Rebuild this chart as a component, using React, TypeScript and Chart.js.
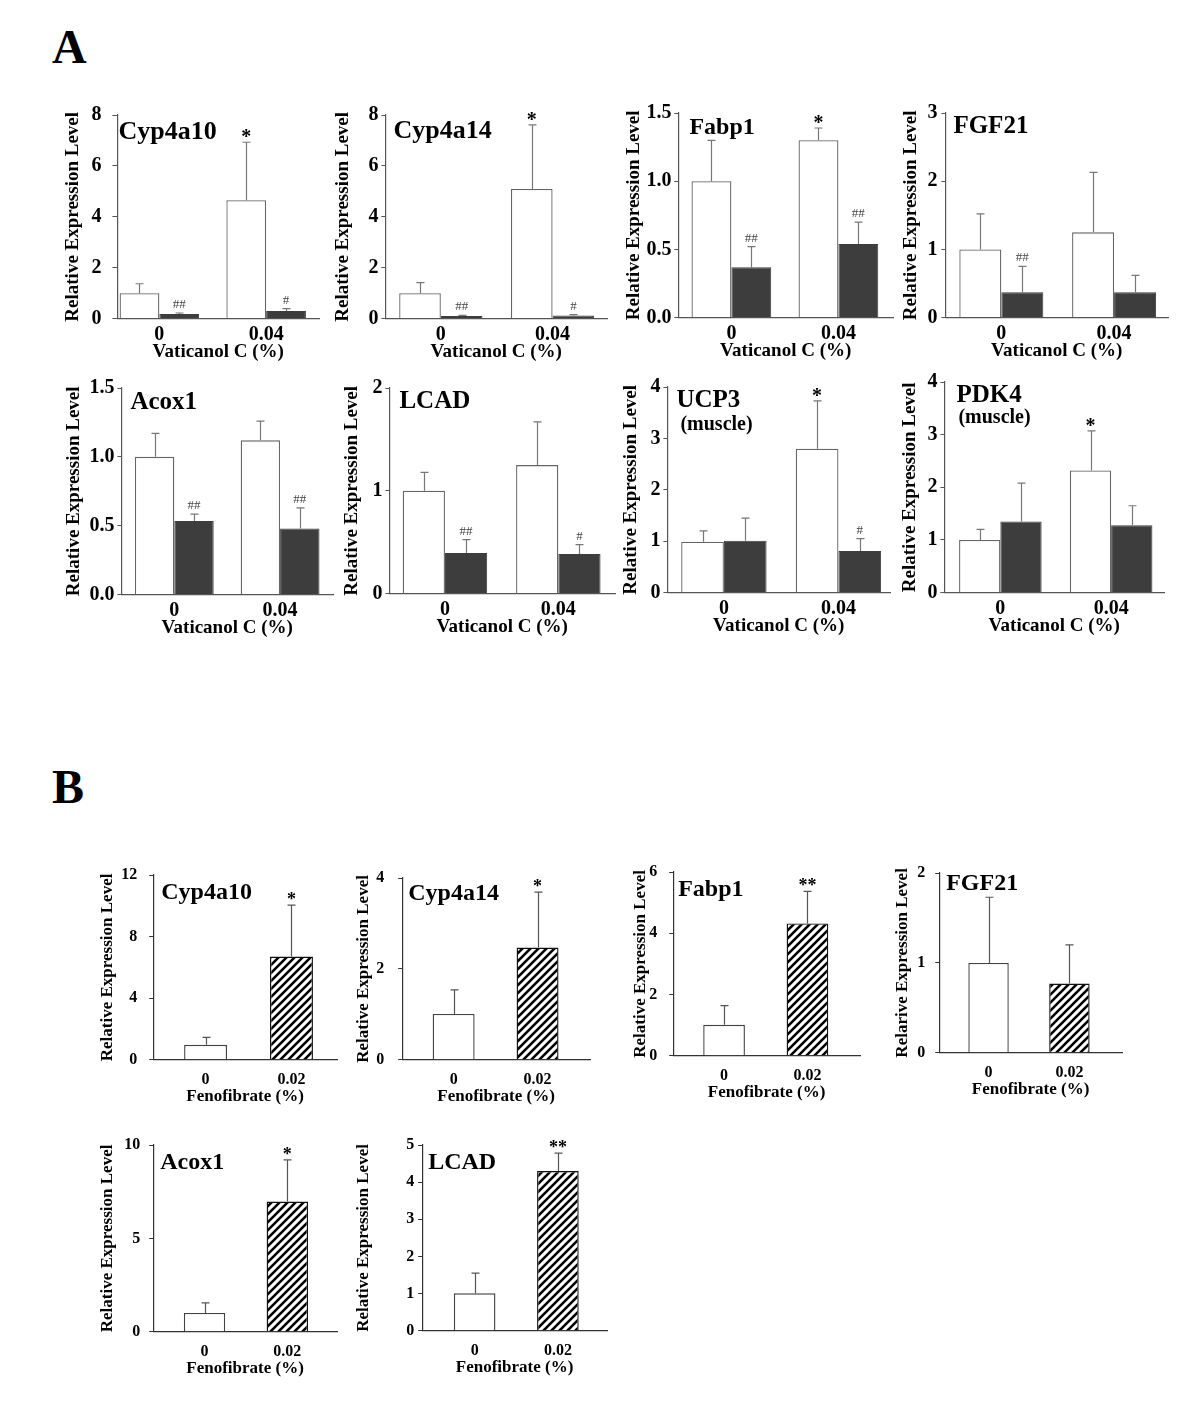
import React, { useEffect, useRef } from 'react';
import { Chart, registerables } from 'chart.js';

Chart.register(...registerables);

const SERIF = "'Liberation Serif', 'Times New Roman', 'DejaVu Serif', serif";

// ---------------- Panel A : Vaticanol C ----------------
const A_CATEGORIES = ['0', '0.04'];
const A_GENES = ['Cyp4a10', 'Cyp4a14', 'Fabp1', 'FGF21', 'Acox1', 'LCAD', 'UCP3', 'PDK4'];
const A_SUBTITLES = ['', '', '', '', '', '', '(muscle)', '(muscle)'];
const A_WHITE_MEAN = [[1.0, 4.65], [1.0, 5.09], [1.0, 1.30], [1.0, 1.25], [1.0, 1.12], [1.0, 1.25], [0.99, 2.80], [1.0, 2.32]];
const A_WHITE_SD = [[0.37, 2.28], [0.41, 2.52], [0.30, 0.09], [0.52, 0.88], [0.17, 0.14], [0.18, 0.42], [0.21, 0.93], [0.20, 0.75]];
const A_DARK_MEAN = [[0.18, 0.30], [0.10, 0.12], [0.37, 0.54], [0.37, 0.37], [0.535, 0.48], [0.395, 0.386], [1.01, 0.81], [1.35, 1.28]];
const A_DARK_SD = [[0.04, 0.09], [0.03, 0.04], [0.15, 0.16], [0.38, 0.25], [0.05, 0.15], [0.13, 0.09], [0.44, 0.24], [0.73, 0.37]];
const A_WHITE_MARKS = [['', '*'], ['', '*'], ['', '*'], ['', ''], ['', ''], ['', ''], ['', '*'], ['', '*']];
const A_DARK_MARKS = [['##', '#'], ['##', '#'], ['##', '##'], ['##', ''], ['##', '##'], ['##', '#'], ['', '#'], ['', '']];
const A_Y_MAX = [8, 8, 1.5, 3, 1.5, 2, 4, 4];
const A_Y_STEP = [2, 2, 0.5, 1, 0.5, 1, 1, 1];
const A_Y_DECIMALS = [0, 0, 1, 0, 1, 0, 0, 0];
const A_Y_TITLE = 'Relative Expression Level';
const A_X_TITLE = 'Vaticanol C (%)';

// ---------------- Panel B : Fenofibrate ----------------
const B_CATEGORIES = ['0', '0.02'];
const B_GENES = ['Cyp4a10', 'Cyp4a14', 'Fabp1', 'FGF21', 'Acox1', 'LCAD'];
const B_MEAN = [[0.97, 6.70], [1.01, 2.47], [1.01, 4.32], [1.0, 0.77], [1.01, 6.97], [1.01, 4.30]];
const B_SD = [[0.48, 3.35], [0.53, 1.22], [0.63, 1.05], [0.73, 0.43], [0.54, 2.23], [0.54, 0.48]];
const B_MARKS = [['', '*'], ['', '*'], ['', '**'], ['', ''], ['', '*'], ['', '**']];
const B_Y_MAX = [12, 4, 6, 2, 10, 5];
const B_Y_STEP = [4, 2, 2, 1, 5, 1];
const B_Y_TITLES = [
  'Relative Expression Level',
  'Relative Expression Level',
  'Relative Expression Level',
  'Relarive Expression Level',
  'Relative Expression Level',
  'Relative Expression Level',
];
const B_X_TITLE = 'Fenofibrate (%)';

// ---------------- Layout / style (not data) ----------------
const STYLE_A = {
  tick: 20, yTitle: 19, xTitle: 19, gene: 25, sub: 20, star: 20, hash: 13,
  starDy: 1, hashDy: -5, xTickPad: -4, xBox: 44.4, catPct: 0.745, cap: 8, axisColor: '#555',
};
const STYLE_B = {
  tick: 16, yTitle: 17, xTitle: 17, gene: 24, sub: 18, star: 18, hash: 13,
  starDy: 0, hashDy: -5, xTickPad: 2.5, xBox: 47.2, catPct: 0.5, cap: 8, axisColor: '#333',
};

const A_LAYOUT = [
  { L: 117, T: 115, R: 319, B: 319, xMin: -0.393, xMax: 1.495, yOff: 44, tickPad: 11, tickLen: 5, tDx: 1, tDy: 24, gSize: 26 },
  { L: 385, T: 115, R: 607, B: 319, xMin: -0.496, xMax: 1.487, yOff: 42, tickPad: 3, tickLen: 4, tDx: 8, tDy: 23, gSize: 26 },
  { L: 678, T: 113, R: 893, B: 318, xMin: -0.495, xMax: 1.51, yOff: 44, tickPad: 3, tickLen: 4, tDx: 11, tDy: 21, gSize: 24 },
  { L: 945, T: 113, R: 1168, B: 318, xMin: -0.496, xMax: 1.478, yOff: 34, tickPad: 4, tickLen: 4, tDx: 8, tDy: 20, gSize: 25 },
  { L: 121, T: 388, R: 333, B: 595, xMin: -0.5, xMax: 1.5, yOff: 47, tickPad: 3, tickLen: 4, tDx: 9, tDy: 21, gSize: 25 },
  { L: 389, T: 388, R: 615, B: 594, xMin: -0.49, xMax: 1.5, yOff: 37, tickPad: 3, tickLen: 4, tDx: 10, tDy: 20, gSize: 25 },
  { L: 667, T: 387, R: 890, B: 593, xMin: -0.493, xMax: 1.45, yOff: 36, tickPad: 3, tickLen: 4, tDx: 9, tDy: 20, sDx: 13, sDy: 43, gSize: 25 },
  { L: 944, T: 382, R: 1164, B: 593, xMin: -0.505, xMax: 1.477, yOff: 34, tickPad: 3, tickLen: 4, tDx: 12, tDy: 20, sDx: 14, sDy: 41, gSize: 25 },
];

const B_LAYOUT = [
  { L: 153, T: 875, R: 337, B: 1060, xMin: -0.61, xMax: 1.53, yOff: 46, tickPad: 12, tickLen: 4, tDx: 8, tDy: 24, gSize: 24 },
  { L: 402, T: 878, R: 590, B: 1060, xMin: -0.613, xMax: 1.625, yOff: 39, tickPad: 14, tickLen: 4, tDx: 6, tDy: 22, gSize: 24 },
  { L: 673, T: 872, R: 860, B: 1056, xMin: -0.61, xMax: 1.63, yOff: 33, tickPad: 12, tickLen: 4, tDx: 5, tDy: 24, gSize: 24 },
  { L: 939, T: 873, R: 1122, B: 1053, xMin: -0.61, xMax: 1.65, yOff: 37, tickPad: 10, tickLen: 4, tDx: 7, tDy: 17, gSize: 24 },
  { L: 153, T: 1145, R: 337, B: 1332, xMin: -0.62, xMax: 1.6, yOff: 46, tickPad: 9, tickLen: 4, tDx: 7, tDy: 24, gSize: 24 },
  { L: 422, T: 1145, R: 607, B: 1331, xMin: -0.63, xMax: 1.59, yOff: 59, tickPad: 4, tickLen: 4, tDx: 6, tDy: 24, gSize: 24 },
];

const PAD_TOP = 24;
const PAD_RIGHT = 6;

function makeHatch(ctx: CanvasRenderingContext2D) {
  const s = 8;
  const c = document.createElement('canvas');
  c.width = s;
  c.height = s;
  const g = c.getContext('2d') as CanvasRenderingContext2D;
  g.fillStyle = '#ffffff';
  g.fillRect(0, 0, s, s);
  g.strokeStyle = '#000000';
  g.lineWidth = 2.6;
  g.lineCap = 'square';
  g.beginPath();
  for (const k of [-s, 0, s]) {
    g.moveTo(k - 1, s + 1);
    g.lineTo(k + s + 1, -1);
  }
  g.stroke();
  return ctx.createPattern(c, 'repeat');
}

function errorBarPlugin(st: any) {
  return {
    id: 'errorBars',
    afterDatasetsDraw(chart: any) {
      const { ctx } = chart;
      const yScale = chart.scales.y;
      chart.data.datasets.forEach((ds: any, di: number) => {
        const meta = chart.getDatasetMeta(di);
        meta.data.forEach((bar: any, i: number) => {
          const mean = ds.data[i].y;
          const top = yScale.getPixelForValue(mean + ds.errors[i]);
          const x = Math.round(bar.x) + 0.5;
          ctx.save();
          ctx.strokeStyle = ds.errColor;
          ctx.lineWidth = 1.2;
          ctx.beginPath();
          ctx.moveTo(x, bar.y);
          ctx.lineTo(x, top);
          ctx.moveTo(x - st.cap / 2, top);
          ctx.lineTo(x + st.cap / 2, top);
          ctx.stroke();
          const mark = ds.marks[i];
          if (mark) {
            const isStar = mark.includes('*');
            ctx.font = isStar ? `bold ${st.star}px ${SERIF}` : `${st.hash}px ${SERIF}`;
            ctx.fillStyle = isStar ? '#000' : '#444';
            ctx.textAlign = 'center';
            ctx.textBaseline = 'alphabetic';
            ctx.fillText(mark, bar.x, top + (isStar ? st.starDy : st.hashDy));
          }
          ctx.restore();
        });
      });
    },
  };
}

function geneLabelPlugin(lines: { text: string; dx: number; dy: number; size: number }[]) {
  return {
    id: 'geneLabel',
    afterDraw(chart: any) {
      const { ctx, chartArea } = chart;
      lines.forEach((l) => {
        ctx.save();
        ctx.font = `bold ${l.size}px ${SERIF}`;
        ctx.fillStyle = '#000';
        ctx.textAlign = 'left';
        ctx.textBaseline = 'alphabetic';
        ctx.fillText(l.text, chartArea.left + l.dx, chartArea.top + l.dy);
        ctx.restore();
      });
    },
  };
}

type PanelSpec = {
  kind: 'A' | 'B';
  idx: number;
};

function panelGeometry(spec: PanelSpec) {
  const st = spec.kind === 'A' ? STYLE_A : STYLE_B;
  const lay = spec.kind === 'A' ? A_LAYOUT[spec.idx] : B_LAYOUT[spec.idx];
  const wy = lay.yOff + (st.yTitle * 1.2) / 2;
  const left = lay.L - wy;
  const top = lay.T - PAD_TOP;
  const width = Math.round(wy + (lay.R - lay.L) + PAD_RIGHT);
  const height = Math.round(PAD_TOP + (lay.B - lay.T) + st.xBox);
  return { st, lay, wy, left, top, width, height };
}

function Panel({ spec }: { spec: PanelSpec }) {
  const ref = useRef<HTMLCanvasElement | null>(null);
  const geo = panelGeometry(spec);

  useEffect(() => {
    const canvas = ref.current as HTMLCanvasElement;
    const ctx = canvas.getContext('2d') as CanvasRenderingContext2D;
    const { st, lay, wy } = geo;
    const i = spec.idx;
    let cats: string[];
    let datasets: any[];
    let yMax: number, yStep: number, yDec: number, yTitle: string, xTitle: string;
    const lines: { text: string; dx: number; dy: number; size: number }[] = [];

    if (spec.kind === 'A') {
      cats = A_CATEGORIES;
      yMax = A_Y_MAX[i];
      yStep = A_Y_STEP[i];
      yDec = A_Y_DECIMALS[i];
      yTitle = A_Y_TITLE;
      xTitle = A_X_TITLE;
      datasets = [
        {
          data: A_WHITE_MEAN[i].map((v, k) => ({ x: k, y: v })),
          errors: A_WHITE_SD[i],
          marks: A_WHITE_MARKS[i],
          backgroundColor: '#ffffff',
          borderColor: '#666666',
          borderWidth: 1.3,
          errColor: '#777777',
        },
        {
          data: A_DARK_MEAN[i].map((v, k) => ({ x: k, y: v })),
          errors: A_DARK_SD[i],
          marks: A_DARK_MARKS[i],
          backgroundColor: '#3d3d3d',
          borderColor: '#3d3d3d',
          borderWidth: 1,
          errColor: '#777777',
        },
      ];
      lines.push({ text: A_GENES[i], dx: lay.tDx, dy: lay.tDy, size: lay.gSize });
      if (A_SUBTITLES[i]) {
        lines.push({ text: A_SUBTITLES[i], dx: (lay as any).sDx, dy: (lay as any).sDy, size: st.sub });
      }
    } else {
      const hatch = makeHatch(ctx);
      cats = B_CATEGORIES;
      yMax = B_Y_MAX[i];
      yStep = B_Y_STEP[i];
      yDec = 0;
      yTitle = B_Y_TITLES[i];
      xTitle = B_X_TITLE;
      datasets = [
        {
          data: B_MEAN[i].map((v, k) => ({ x: k, y: v })),
          errors: B_SD[i],
          marks: B_MARKS[i],
          backgroundColor: ['#ffffff', hatch],
          borderColor: ['#444444', '#111111'],
          borderWidth: 1.4,
          errColor: '#555555',
        },
      ];
      lines.push({ text: B_GENES[i], dx: lay.tDx, dy: lay.tDy, size: lay.gSize });
    }

    datasets.forEach((d) => {
      d.categoryPercentage = st.catPct;
      d.barPercentage = 1;
      d.borderSkipped = 'bottom';
    });

    const tickFont = { family: SERIF, size: st.tick, weight: 'bold' as const };

    const chart = new Chart(ctx, {
      type: 'bar',
      data: { datasets },
      options: {
        animation: false,
        responsive: false,
        devicePixelRatio: 1,
        events: [],
        layout: { padding: { top: PAD_TOP, right: PAD_RIGHT, left: 0, bottom: 0 } },
        plugins: {
          legend: { display: false },
          tooltip: { enabled: false },
        },
        scales: {
          x: {
            type: 'linear',
            offset: false,
            min: lay.xMin,
            max: lay.xMax,
            afterBuildTicks: (s: any) => {
              s.ticks = cats.map((_, k) => ({ value: k }));
            },
            afterFit: (s: any) => {
              s.height = st.xBox;
            },
            grid: { display: false, offset: false },
            border: { display: true, color: st.axisColor, width: 1.2 },
            ticks: {
              callback: (v: any) => cats[v] ?? '',
              font: tickFont,
              color: '#000',
              padding: st.xTickPad,
              maxRotation: 0,
              autoSkip: false,
            },
            title: {
              display: true,
              text: xTitle,
              font: { family: SERIF, size: st.xTitle, weight: 'bold' },
              color: '#000',
              padding: { top: 0, bottom: 0 },
            },
          },
          y: {
            type: 'linear',
            min: 0,
            max: yMax,
            afterFit: (s: any) => {
              s.width = wy;
            },
            grid: {
              display: true,
              drawOnChartArea: false,
              drawTicks: true,
              tickLength: lay.tickLen,
              color: st.axisColor,
              lineWidth: 1,
            },
            border: { display: true, color: st.axisColor, width: 1.2 },
            ticks: {
              stepSize: yStep,
              callback: (v: any) => Number(v).toFixed(yDec),
              font: tickFont,
              color: '#000',
              padding: lay.tickPad,
            },
            title: {
              display: true,
              text: yTitle,
              font: { family: SERIF, size: st.yTitle, weight: 'bold' },
              color: '#000',
              padding: { top: 0, bottom: 0 },
            },
          },
        },
      } as any,
      plugins: [errorBarPlugin(st), geneLabelPlugin(lines)],
    });
    return () => chart.destroy();
  }, []);

  return (
    <canvas
      ref={ref}
      width={geo.width}
      height={geo.height}
      style={{ position: 'absolute', left: geo.left, top: geo.top, width: geo.width, height: geo.height }}
    />
  );
}

export default function App() {
  const aSpecs: PanelSpec[] = A_GENES.map((_, i) => ({ kind: 'A', idx: i }));
  const bSpecs: PanelSpec[] = B_GENES.map((_, i) => ({ kind: 'B', idx: i }));
  const letter = (text: string, top: number) => (
    <div
      style={{
        position: 'absolute',
        left: 52,
        top,
        fontFamily: SERIF,
        fontWeight: 'bold',
        fontSize: 48,
        lineHeight: '48px',
        color: '#000',
      }}
    >
      {text}
    </div>
  );
  return (
    <div style={{ position: 'absolute', left: 0, top: 0, width: 1200, height: 1428, background: '#fff', overflow: 'hidden' }}>
      {letter('A', 23)}
      {letter('B', 763)}
      {aSpecs.map((s) => (
        <Panel key={`A${s.idx}`} spec={s} />
      ))}
      {bSpecs.map((s) => (
        <Panel key={`B${s.idx}`} spec={s} />
      ))}
    </div>
  );
}
